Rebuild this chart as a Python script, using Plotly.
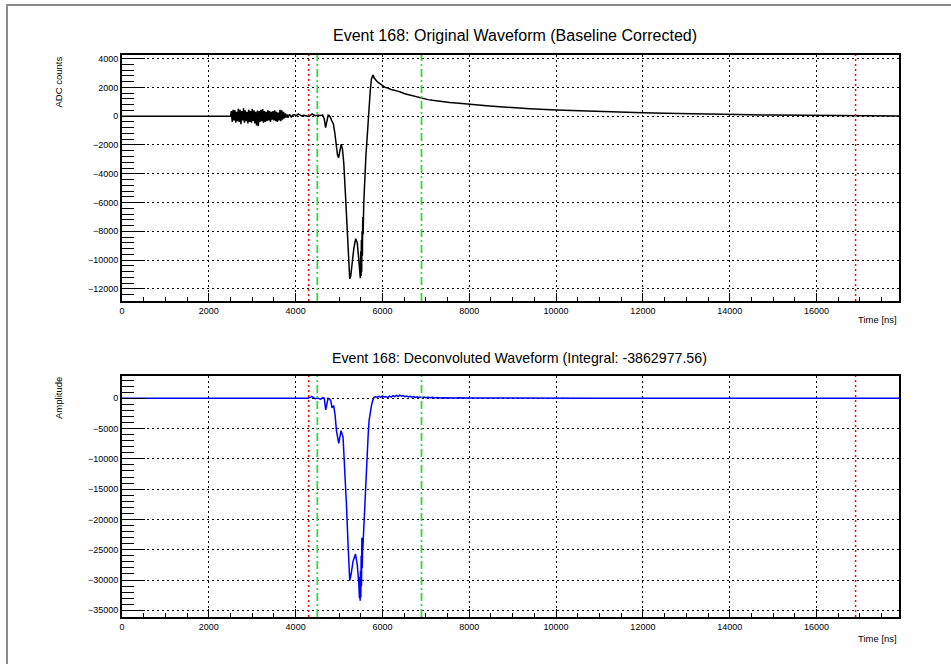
import plotly.graph_objects as go

# ---------------- data ----------------
t_orig = [0, 2480,
          2500, 2520, 2540, 2560, 2580, 2600, 2620, 2640, 2660, 2680, 2700, 2720, 2740, 2760, 2780,
          2800, 2820, 2840, 2860, 2880, 2900, 2920, 2940, 2960, 2980, 3000, 3020, 3040, 3060, 3080,
          3100, 3120, 3140, 3160, 3180, 3200, 3220, 3240, 3260, 3280, 3300, 3320, 3340, 3360, 3380,
          3400, 3420, 3440, 3460, 3480, 3500, 3520, 3540, 3560, 3580, 3600, 3620, 3640, 3660, 3680,
          3700, 3720, 3740, 3760, 3780, 3800,
          3820, 3860, 3900, 3940, 3980, 4020, 4060, 4100, 4140, 4180, 4220, 4260, 4300, 4340, 4380,
          4420, 4460, 4500, 4540, 4580, 4620, 4660, 4690, 4720, 4750, 4770, 4800, 4830, 4845, 4870,
          4900, 4935, 4965, 4990, 5020, 5050, 5080, 5110, 5150, 5190, 5220, 5246, 5270, 5300, 5340,
          5384, 5420, 5450, 5475, 5490, 5500, 5508, 5515, 5522, 5530, 5538, 5546, 5555, 5570, 5592,
          5620, 5645, 5670, 5692, 5720, 5746, 5765, 5784, 5810, 5840, 5862, 5900, 5940, 5980, 6014,
          6060, 6100, 6150, 6200, 6250, 6300, 6350, 6400, 6450, 6500, 6560, 6620, 6680, 6740, 6800,
          6860, 6912, 6980, 7050, 7150, 7250, 7350, 7450, 7550, 7700, 7850, 8012, 8200, 8400, 8703,
          9000, 9400, 10000, 10500, 11000, 11500, 12000, 12500, 13000, 13500, 14000, 14500, 15000,
          15500, 16000, 16500, 17000, 17500, 17900]
adc_orig = [0, 0,
            0, 350, -400, 450, -300, 420, -450, 300, -350, 520, -400, 450, -550, 350, -300,
            550, -450, 400, -350, 300, -500, 450, -400, 350, -450, 500, -350, 400, -500, 300,
            -650, 400, -700, 350, -400, 450, -350, 500, -450, 350, -400, 300, -350, 400, -300,
            350, -400, 300, -250, 350, -300, 400, -350, 300, -400, 250, -300, 450, -350, 400,
            -250, 300, -150, 200, -100, 120,
            -100, 130, -60, 80, 100, 40, 150, 90, 20, 70, 50, 0, -20, 60, 150,
            80, 30, 60, 50, 40, 90, -200, -790, -200, 70, 50, -70, -300, -440, -560,
            -1100, -2070, -2700, -2880, -2300, -1950, -2300, -3300, -5560, -8200, -10200, -11300, -11100, -10300, -9200,
            -8510, -8800, -9800, -10900, -11260, -9400, -11100, -8600, -10800, -8000, -9700, -7000, -8200, -6000, -4160,
            -2700, -1600, -300, 720, 1800, 2580, 2700, 2860, 2650, 2500, 2460, 2350, 2250, 2180, 2110,
            2000, 1980, 1900, 1850, 1820, 1760, 1740, 1700, 1620, 1580, 1520, 1470, 1420, 1380, 1330,
            1290, 1230, 1200, 1150, 1100, 1050, 1010, 980, 950, 910, 880, 850, 790, 730, 650,
            580, 510, 430, 370, 310, 270, 230, 195, 160, 135, 110, 95, 80,
            65, 50, 40, 30, 25, 20]

t_deco = [0, 4280, 4330, 4370, 4410, 4450, 4500, 4540, 4580, 4620, 4660, 4693, 4720, 4747, 4780,
          4810, 4839, 4877, 4910, 4940, 4993, 5020, 5046, 5092, 5130, 5170, 5210, 5247, 5280, 5320,
          5378, 5420, 5455, 5470, 5477, 5486, 5494, 5502, 5510, 5518, 5526, 5534, 5542, 5550, 5565,
          5592, 5620, 5645, 5670, 5692, 5720, 5746, 5775, 5806, 5840, 5880, 5920, 5960, 6000, 6040,
          6080, 6120, 6160, 6200, 6240, 6280, 6320, 6360, 6400, 6440, 6480, 6520, 6560, 6600, 6640,
          6680, 6720, 6760, 6800, 6840, 6880, 6920, 6960, 7000, 7050, 7100, 7150, 7200, 7260, 7320,
          7400, 7480, 7560, 7650, 7750, 7850, 8000, 8200, 8400, 8700, 9000, 9500, 10000, 11000,
          12000, 13000, 14000, 15000, 16000, 17000, 17900]
amp_deco = [0, 0, 150, 300, 100, -50, 50, 0, -150, 100, 0, -1920, -600, 0, -100,
            -400, -1590, -1200, -2800, -5330, -7430, -6200, -5330, -6430, -11000, -17440, -24500, -30100, -29000, -27000,
            -25700, -27500, -30500, -33000, -29500, -33400, -28500, -32900, -26000, -31000, -23000, -28000, -25200, -24500, -22000,
            -18540, -14000, -9740, -6200, -3680, -2200, -1200, -400, 170, 250, 180, 320, 150, 380, 220,
            300, 120, 350, 200, 420, 260, 480, 300, 520, 350, 450, 280, 380, 220, 330,
            180, 300, 150, 260, 120, 220, 100, 200, 90, 160, 80, 150, 70, 130, 60,
            110, 60, 100, 50, 80, 40, 60, 50, 40, 40, 30, 30, 25, 20,
            20, 15, 15, 10, 10, 5, 5]

vline_red = [4300, 16900]
vline_green = [4500, 6900]

titles = ["Event 168: Original Waveform (Baseline Corrected)",
          "Event 168: Deconvoluted Waveform (Integral: -3862977.56)"]
ytitles = ["ADC counts", "Amplitude"]
xtitle = "Time [ns]"

# ---------------- geometry ----------------
W, H = 951, 664
L, R, T, B = 122, 52, 55, 47
PW, PH = W - L - R, H - T - B


def px(xp):
    return (xp - L) / PW


def py(yp):
    return (H - B - yp) / PH


FONT = "Liberation Sans, Arial, Helvetica, sans-serif"

fig = go.Figure()
fig.add_trace(go.Scatter(x=t_orig, y=adc_orig, mode="lines",
                         line=dict(color="black", width=1.5), xaxis="x", yaxis="y",
                         showlegend=False, hoverinfo="skip"))
fig.add_trace(go.Scatter(x=t_deco, y=amp_deco, mode="lines",
                         line=dict(color="#0000ff", width=1.5), xaxis="x2", yaxis="y2",
                         showlegend=False, hoverinfo="skip"))

grid = dict(showgrid=True, gridcolor="black", gridwidth=1, griddash="2px,3px")
common = dict(showline=True, linecolor="black", linewidth=1.8, mirror=True, ticks="inside",
              tickcolor="black", tickwidth=1, zeroline=False, tickformat="d",
              tickfont=dict(family=FONT, size=9, color="black"), **grid)

xax = dict(range=[0, 17900], tick0=0, dtick=2000, ticklen=8,
           minor=dict(ticks="inside", ticklen=4, dtick=500, tickcolor="black", showgrid=False),
           **common)
yax_top = dict(range=[-12840, 4250], tick0=0, dtick=2000, ticklen=23,
               minor=dict(ticks="inside", ticklen=12, dtick=400, tickcolor="black", showgrid=False),
               **common)
yax_bot = dict(range=[-36100, 3680], tick0=0, dtick=5000, ticklen=23,
               minor=dict(ticks="inside", ticklen=12, dtick=1000, tickcolor="black", showgrid=False),
               **common)

top_dom = [py(301), 1]
bot_dom = [0, py(376)]

shapes = []
for xr, yr in (("x", "y"), ("x2", "y2")):
    for v in vline_red:
        shapes.append(dict(type="line", xref=xr, yref=yr + " domain", x0=v, x1=v, y0=0, y1=1,
                           line=dict(color="#ff0000", width=1.5, dash="2px,3px")))
    for v in vline_green:
        shapes.append(dict(type="line", xref=xr, yref=yr + " domain", x0=v, x1=v, y0=0, y1=1,
                           line=dict(color="#40d040", width=1.8, dash="8px,3px,2px,3px")))
# canvas border
shapes.append(dict(type="rect", xref="paper", yref="paper", x0=px(7), x1=px(970),
                   y0=py(690), y1=py(5), line=dict(color="#8c8c8c", width=2), layer="below"))

ann = []
ann.append(dict(text=titles[0], x=px(515), y=py(36), xref="paper", yref="paper",
                showarrow=False, font=dict(family=FONT, size=16, color="black"),
                xanchor="center", yanchor="middle"))
ann.append(dict(text=titles[1], x=px(519), y=py(358), xref="paper", yref="paper",
                showarrow=False, font=dict(family=FONT, size=14.2, color="black"),
                xanchor="center", yanchor="middle"))
ann.append(dict(text=ytitles[0], x=px(58), y=py(55), xref="paper", yref="paper",
                showarrow=False, textangle=-90, font=dict(family=FONT, size=9.5, color="black"),
                xanchor="center", yanchor="top"))
ann.append(dict(text=ytitles[1], x=px(59), y=py(375), xref="paper", yref="paper",
                showarrow=False, textangle=-90, font=dict(family=FONT, size=9.5, color="black"),
                xanchor="center", yanchor="top"))
ann.append(dict(text=xtitle, x=px(899), y=py(319), xref="paper", yref="paper",
                showarrow=False, font=dict(family=FONT, size=9.5, color="black"),
                xanchor="right", yanchor="middle"))
ann.append(dict(text=xtitle, x=px(899), y=py(638), xref="paper", yref="paper",
                showarrow=False, font=dict(family=FONT, size=9.5, color="black"),
                xanchor="right", yanchor="middle"))

fig.update_layout(
    width=W, height=H, autosize=False,
    margin=dict(l=L, r=R, t=T, b=B, pad=0),
    paper_bgcolor="white", plot_bgcolor="white",
    showlegend=False,
    xaxis=dict(anchor="y", domain=[0, 1], **xax),
    yaxis=dict(anchor="x", domain=top_dom, **yax_top),
    xaxis2=dict(anchor="y2", domain=[0, 1], **xax),
    yaxis2=dict(anchor="x2", domain=bot_dom, **yax_bot),
    shapes=shapes, annotations=ann,
)

fig.write_html("out.html", config={"displayModeBar": False},
               post_script="document.body.style.margin='0';document.body.style.overflow='hidden';")
